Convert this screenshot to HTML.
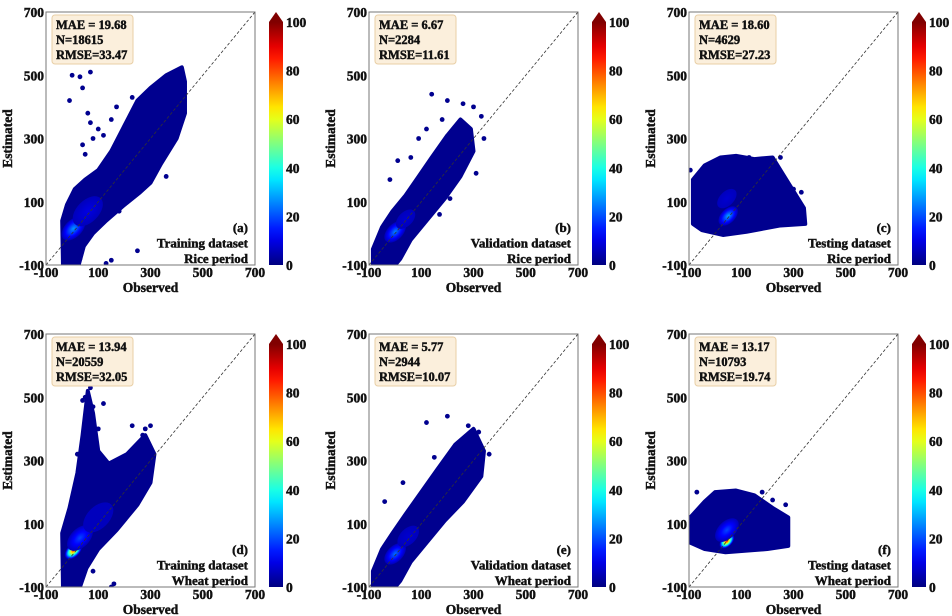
<!DOCTYPE html>
<html><head><meta charset="utf-8">
<style>
html,body{margin:0;padding:0;background:#fff;}
svg{display:block;}
svg text{font-family:"Liberation Serif",serif;font-weight:700;stroke:#111;stroke-width:0.45px;}
</style></head>
<body>
<svg id="fig" width="952" height="616" viewBox="0 0 952 616"></svg>
<script>
// ---- chart data ----
const panelLetters = ["(a)","(b)","(c)","(d)","(e)","(f)"];
const datasetNames = ["Training dataset","Validation dataset","Testing dataset","Training dataset","Validation dataset","Testing dataset"];
const periodNames = ["Rice period","Rice period","Rice period","Wheat period","Wheat period","Wheat period"];
const maeValues = ["19.68","6.67","18.60","13.94","5.77","13.17"];
const nValues = ["18615","2284","4629","20559","2944","10793"];
const rmseValues = ["33.47","11.61","27.23","32.05","10.07","19.74"];
const axisTicks = [-100,100,300,500,700];
const colorTicks = [0,20,40,60,80,100];
// envelope polygons of the dense point cloud (observed, estimated)
const envA = [[-35,-100],[-38,40],[-20,90],[10,140],[50,170],[100,200],[150,260],[200,340],[250,420],[300,460],[360,500],[420,525],[432,480],[432,380],[400,300],[340,220],[300,160],[260,130],[200,90],[130,40],[80,0],[45,-40],[25,-100]];
const envB = [[-85,-100],[-85,-50],[-50,20],[-10,70],[40,120],[90,180],[140,240],[200,310],[250,360],[290,330],[300,260],[250,180],[190,110],[120,40],[60,-20],[20,-80],[0,-100]];
const envC = [[-85,30],[-85,170],[-40,215],[20,240],[80,245],[150,235],[220,240],[250,200],[340,80],[345,30],[250,25],[120,5],[30,-5],[-50,10]];
const envD = [[-35,-100],[-38,70],[-10,150],[20,260],[40,380],[60,520],[80,450],[100,330],[140,290],[210,320],[280,380],[315,320],[300,230],[250,160],[170,80],[100,20],[55,-40],[30,-100]];
const envE = [[-85,-100],[-85,-50],[-50,20],[-10,70],[40,130],[100,200],[160,270],[230,350],[300,400],[340,330],[330,250],[260,170],[190,110],[120,40],[60,-20],[20,-80],[0,-100]];
const envF = [[-95,40],[-95,120],[-40,170],[0,200],[80,205],[150,190],[220,150],[280,120],[280,30],[200,20],[120,15],[40,10],[-40,20]];
const envelopes = [envA,envB,envC,envD,envE,envF];
// density hotspots [observed, estimated, peak density, radius in data units]
const hotA = [[5,15,28,55],[60,70,10,70]];
const hotB = [[0,5,26,50],[40,45,8,45]];
const hotC = [[50,55,30,45],[45,110,8,45]];
const hotD = [[5,15,88,40],[30,55,20,60],[100,120,6,70]];
const hotE = [[0,5,24,50],[50,60,8,50]];
const hotF = [[45,45,92,34],[45,80,20,55]];
const hotspots = [hotA,hotB,hotC,hotD,hotE,hotF];
// isolated outlier points (observed, estimated)
const outA = [[-10,420],[0,500],[30,495],[40,460],[70,510],[60,380],[70,350],[80,300],[40,280],[50,250],[100,330],[120,310],[150,360],[170,400],[230,430],[240,350],[280,290],[260,270],[320,200],[360,180],[250,-55],[150,-85],[130,-95],[30,-80],[180,70]];
const outB = [[10,230],[-20,170],[140,440],[200,420],[260,410],[300,400],[330,370],[340,300],[310,190],[180,360],[120,330],[90,300],[60,240],[250,270],[210,110],[170,60]];
const outC = [[-95,200],[-60,170],[250,240],[330,130],[300,140],[200,230],[130,240]];
const outD = [[70,530],[50,500],[40,490],[80,470],[120,480],[100,400],[60,430],[230,410],[280,400],[300,410],[270,380],[40,330],[20,320],[160,-90],[150,-100],[80,-50],[60,-30]];
const outE = [[120,420],[200,440],[280,410],[320,390],[360,320],[-40,170],[30,230],[250,340],[150,310]];
const outF = [[-70,200],[-40,160],[180,200],[220,175],[270,160],[230,120],[-100,120],[100,20]];
const outliers = [outA,outB,outC,outD,outE,outF];

// ---- layout ----
const colLeft = [46,369,689];
const rowTop = [12,334];
const W = 209, H = 253;
const NS = "http://www.w3.org/2000/svg";
const svg = document.getElementById("fig");
function mk(tag, attrs, parent){
  const e = document.createElementNS(NS, tag);
  for (const k in attrs) e.setAttribute(k, attrs[k]);
  (parent||svg).appendChild(e);
  return e;
}
function jet(v){
  const t = Math.max(0,Math.min(1,v/100));
  const r = Math.max(0,Math.min(1,1.5-Math.abs(4*t-3)));
  const g = Math.max(0,Math.min(1,1.5-Math.abs(4*t-2)));
  const b = Math.max(0,Math.min(1,1.5-Math.abs(4*t-1)));
  return `rgb(${Math.round(r*255)},${Math.round(g*255)},${Math.round(b*255)})`;
}
const defs = mk("defs",{});
const cg = mk("linearGradient",{id:"jetgrad",x1:"0",y1:"1",x2:"0",y2:"0"},defs);
for (let i=0;i<=20;i++){ mk("stop",{offset:(i/20),"stop-color":jet(i*5)},cg); }

for (let p=0;p<6;p++){
  const L = colLeft[p%3], T = rowTop[Math.floor(p/3)];
  const xs = v => L + (v+100)/800*W;
  const ys = v => T + H - (v+100)/800*H;
  const g = mk("g",{});
  
  
  const clipId = "clip"+p;
  const cp = mk("clipPath",{id:clipId},defs);
  mk("rect",{x:L,y:T,width:W,height:H},cp);
  const plot = mk("g",{"clip-path":`url(#${clipId})`},g);
  const env = envelopes[p];
  const poly = mk("polygon",{points:env.map(q=>xs(q[0])+","+ys(q[1])).join(" "),fill:"#00008f",stroke:"#00008f","stroke-width":4,"stroke-linejoin":"round"},plot);
  
  
  outliers[p].forEach(q=>{
    const c = mk("circle",{cx:xs(q[0]),cy:ys(q[1]),r:2.4,fill:"#00008f"},plot);
    
    
  });
  hotspots[p].forEach(h=>{
    const steps = 14;
    for (let k=0;k<steps;k++){
      const f = k/steps;
      const val = 6 + (h[2]-6)*f;
      const rr = (1-f)*h[3]/800*W;
      const e = mk("ellipse",{cx:xs(h[0]),cy:ys(h[1]),rx:rr,ry:rr*0.6,fill:jet(val),transform:`rotate(-45 ${xs(h[0])} ${ys(h[1])})`},plot);
      
      
    }
  });
  const dl = mk("line",{x1:xs(-100),y1:ys(-100),x2:xs(700),y2:ys(700),stroke:"#333","stroke-width":0.8,"stroke-dasharray":"3,2"},g);
  
  
  const fr = mk("rect",{x:L,y:T,width:W,height:H,fill:"none",stroke:"#777","stroke-width":1},g);
  
  
  axisTicks.forEach(t=>{
    const tx = mk("text",{x:xs(t),y:T+H+12,"text-anchor":"middle","font-size":13.5,fill:"#111"},g);
    tx.textContent = t;
    
    
    const ty = mk("text",{x:L-2,y:ys(t)+5,"text-anchor":"end","font-size":13.5,fill:"#111"},g);
    ty.textContent = t;
    
    
  });
  const xt = mk("text",{x:L+W/2,y:T+H+27,"text-anchor":"middle","font-size":13.5,fill:"#111"},g);
  xt.textContent = "Observed";
  
  
  const yt = mk("text",{x:0,y:0,"text-anchor":"middle","font-size":13.5,fill:"#111",transform:`translate(${L-34},${T+H/2}) rotate(-90)`},g);
  yt.textContent = "Estimated";
  
  
  const sb = mk("rect",{x:L+6,y:T+3,width:81,height:49,rx:3,fill:"#fbefdc",stroke:"#e9cfa6","stroke-width":1},g);
  
  
  const lines = ["MAE = "+maeValues[p],"N="+nValues[p],"RMSE="+rmseValues[p]];
  lines.forEach((s,i)=>{
    const t = mk("text",{x:L+10,y:T+17+i*15,"font-size":12.5,fill:"#111"},g);
    t.textContent = s;
    
    
  });
  [panelLetters[p],datasetNames[p],periodNames[p]].forEach((s,i)=>{
    const t = mk("text",{x:L+W-7,y:T+H-33+i*15.5,"text-anchor":"end","font-size":13,fill:"#111"},g);
    t.textContent = s;
    
    
  });
  const cx = L+W+14, cw = 14, cTop = T+10, cBot = T+H;
  const cb = mk("rect",{x:cx,y:cTop,width:cw,height:cBot-cTop,fill:"url(#jetgrad)"},g);
  
  
  const ar = mk("polygon",{points:`${cx},${cTop} ${cx+cw},${cTop} ${cx+cw/2},${T}`,fill:"#800000"},g);
  
  
  colorTicks.forEach(v=>{
    const yy = cBot - v/100*(cBot-cTop);
    const t = mk("text",{x:cx+cw+3,y:yy+5,"font-size":13.5,fill:"#111"},g);
    t.textContent = v;
    
    
  });
}
</script>
</body></html>
